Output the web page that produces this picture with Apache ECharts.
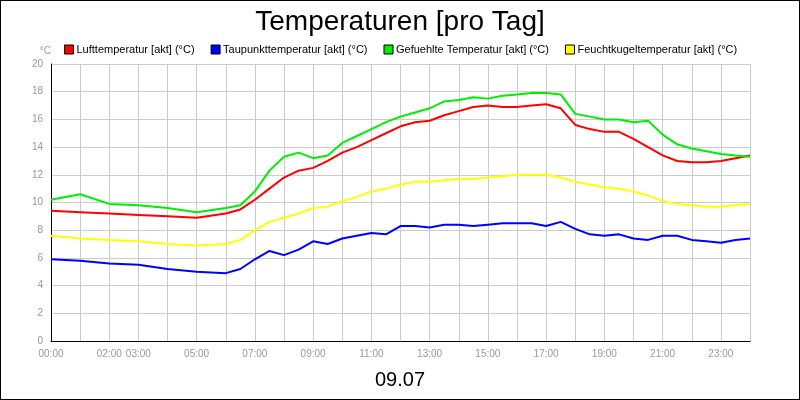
<!DOCTYPE html>
<html><head><meta charset="utf-8">
<script src="https://cdn.jsdelivr.net/npm/echarts@6/dist/echarts.min.js"></script>
<style>body{margin:0}#main{width:798px;height:398px;border:1px solid #000;background:#fff}</style>
</head><body><div id="main"></div>
<script>
const hours = [0,1,2,3,4,5,6,6.5,7,7.5,8,8.5,9,9.5,10,10.5,11,11.5,12,12.5,13,13.5,14,14.5,15,15.5,16,16.5,17,17.5,18,18.5,19,19.5,20,20.5,21,21.5,22,22.5,23,23.5,24];
const tickLabels = [0,2,3,5,7,9,11,13,15,17,19,21,23];
const luft = [9.4,9.3,9.2,9.1,9.0,8.9,9.2,9.5,10.2,11.0,11.8,12.3,12.5,13.0,13.6,14.0,14.5,15.0,15.5,15.8,15.9,16.3,16.6,16.9,17.0,16.9,16.9,17.0,17.1,16.8,15.6,15.3,15.1,15.1,14.6,14.0,13.4,13.0,12.9,12.9,13.0,13.2,13.4];
const taupunkt = [5.9,5.8,5.6,5.5,5.2,5.0,4.9,5.2,5.9,6.5,6.2,6.6,7.2,7.0,7.4,7.6,7.8,7.7,8.3,8.3,8.2,8.4,8.4,8.3,8.4,8.5,8.5,8.5,8.3,8.6,8.1,7.7,7.6,7.7,7.4,7.3,7.6,7.6,7.3,7.2,7.1,7.3,7.4];
const gefuehlt = [10.2,10.6,9.9,9.8,9.6,9.3,9.6,9.8,10.8,12.3,13.3,13.6,13.2,13.4,14.3,14.8,15.3,15.8,16.2,16.5,16.8,17.3,17.4,17.6,17.5,17.7,17.8,17.9,17.9,17.8,16.4,16.2,16.0,16.0,15.8,15.9,14.9,14.2,13.9,13.7,13.5,13.4,13.3];
const feucht = [7.6,7.4,7.3,7.2,7.0,6.9,7.0,7.3,8.0,8.6,8.9,9.2,9.6,9.7,10.1,10.4,10.8,11.0,11.3,11.5,11.5,11.6,11.7,11.7,11.8,11.9,12.0,12.0,12.0,11.8,11.5,11.3,11.1,11.0,10.8,10.5,10.1,9.9,9.8,9.7,9.7,9.8,9.9];

const names = ['Lufttemperatur [akt] (°C)','Taupunkttemperatur [akt] (°C)','Gefuehlte Temperatur [akt] (°C)','Feuchtkugeltemperatur [akt] (°C)'];
const colors = ['#ff0000','#0000ff','#00ee00','#ffff00'];
const data = [luft, taupunkt, gefuehlt, feucht];

const chart = echarts.init(document.getElementById('main'));
chart.setOption({
  animation: false,
  title: [
    {text: 'Temperaturen [pro Tag]', left: 'center', top: 2, textStyle: {fontSize: 28, fontWeight: 'normal', color: '#000', fontFamily: 'Liberation Sans'}},
    {text: '09.07', left: 'center', top: 364, textStyle: {fontSize: 20, fontWeight: 'normal', color: '#000', fontFamily: 'Liberation Sans'}}
  ],
  legend: {
    top: 38, left: 58, itemGap: 16, itemWidth: 9, itemHeight: 9, icon: 'rect',
    selectedMode: false,
    textStyle: {fontSize: 11, color: '#000', fontFamily: 'Liberation Sans', padding: [0,0,0,-2]},
    data: names.map((n, i) => ({name: n, itemStyle: {color: colors[i], borderColor: '#000', borderWidth: 1}}))
  },
  grid: {left: 50, right: 49, top: 63, bottom: 58},
  xAxis: {
    type: 'value', min: 0, max: 24, interval: 1,
    axisLine: {lineStyle: {color: '#000'}},
    axisTick: {show: false},
    axisLabel: {color: '#999', fontSize: 10, fontFamily: 'Liberation Sans',
      formatter: v => tickLabels.includes(v) ? String(v).padStart(2, '0') + ':00' : ''},
    splitLine: {show: true, lineStyle: {color: '#ccc'}}
  },
  yAxis: {
    type: 'value', min: 0, max: 20, interval: 2, name: '°C',
    nameGap: 8, nameTextStyle: {color: '#999', fontSize: 10, align: 'right'},
    axisLine: {show: true, lineStyle: {color: '#000'}},
    axisTick: {show: false},
    axisLabel: {color: '#999', fontSize: 10, fontFamily: 'Liberation Sans'},
    splitLine: {lineStyle: {color: '#ccc'}}
  },
  series: names.map((n, i) => ({
    name: n, type: 'line', symbol: 'none',
    lineStyle: {color: colors[i], width: 2},
    itemStyle: {color: colors[i]},
    data: hours.map((h, j) => [h, data[i][j]])
  }))
});
</script></body></html>
